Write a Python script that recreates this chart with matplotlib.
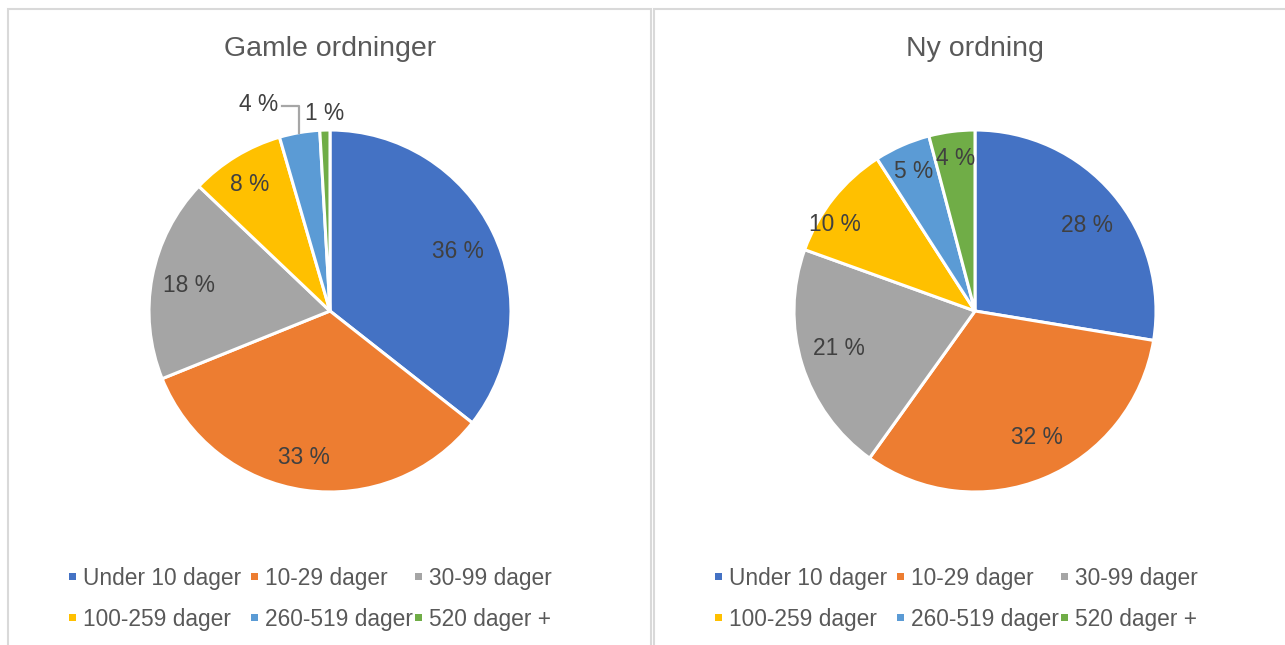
import numpy as np
import matplotlib
matplotlib.use("Agg")
import matplotlib.pyplot as plt
from matplotlib.patches import Rectangle

plt.rcParams['font.family'] = ['Liberation Sans', 'DejaVu Sans']

categories = ["Under 10 dager", "10-29 dager", "30-99 dager",
              "100-259 dager", "260-519 dager", "520 dager +"]
colors = ["#4472C4", "#ED7D31", "#A5A5A5", "#FFC000", "#5B9BD5", "#70AD47"]

title_old = "Gamle ordninger"
values_old = [35.6, 33.3, 18.2, 8.4, 3.6, 0.9]
title_new = "Ny ordning"
values_new = [27.6, 32.3, 20.6, 10.4, 5.0, 4.1]

W, H = 1285, 645
fig = plt.figure(figsize=(W / 100, H / 100), dpi=100)

LABEL_C = "#404040"
TEXT_C = "#595959"
R_PX = 181
L = 1.5
DY = -3.0 / R_PX   # small downward nudge of labels
FS = 16.4


def px_axes(cx, cy):
    side = 2 * L * R_PX
    return [(cx - side / 2) / W, (H - cy - side / 2) / H, side / W, side / H]


def draw_pie(cx, cy, values, title, dists, angle_adj, outside):
    ax = fig.add_axes(px_axes(cx, cy))
    wedges, _ = ax.pie(values, colors=colors, startangle=90, counterclock=False,
                       radius=1.0, wedgeprops=dict(edgecolor="white", linewidth=2.2))
    ax.set_xlim(-L, L)
    ax.set_ylim(-L, L)
    ax.axis("off")
    total = sum(values)
    cum = 0
    for i, v in enumerate(values):
        mid_deg = 90 - 360 * (cum + v / 2) / total
        mid = np.deg2rad(mid_deg)
        cum += v
        label = f"{round(v)} %"
        if i in outside:
            kind = outside[i]
            if kind == "leader":
                x0, y0 = np.cos(mid), np.sin(mid)
                ytop = 1.133
                ax.plot([x0, x0, x0 - 0.095], [y0, ytop, ytop], color="#A6A6A6",
                        lw=1.6, clip_on=False)
                ax.text(x0 - 0.12, 1.16 + DY, label, ha="right", va="center",
                        fontsize=FS, color=LABEL_C)
            else:
                r = 1.11
                ax.text(r * np.cos(mid), r * np.sin(mid) + DY, label, ha="center",
                        va="center", fontsize=FS, color=LABEL_C)
        else:
            r = dists[i]
            a = np.deg2rad(mid_deg + angle_adj[i])
            ax.text(r * np.cos(a), r * np.sin(a), label, ha="center",
                    va="center", fontsize=FS, color=LABEL_C)
    fig.text(cx / W, 1 - 49 / H, title, ha="center", va="center",
             fontsize=20.5, color=TEXT_C)


def draw_legend(x0):
    col_x = [72, 254, 418]
    row_y = [576, 617]
    for i, (lab, c) in enumerate(zip(categories, colors)):
        r, k = divmod(i, 3)
        x = x0 + col_x[k]
        y = row_y[r]
        fig.patches.append(Rectangle(((x - 3.5) / W, 1 - (y + 3.5) / H), 7 / W, 7 / H,
                                     transform=fig.transFigure, color=c, lw=0))
        fig.text((x + 11) / W, 1 - (y + 2.5) / H, lab, ha="left", va="center",
                 fontsize=FS, color=TEXT_C)


# panel borders
for (x1, x2) in [(8, 651), (654, 1300)]:
    fig.patches.append(Rectangle((x1 / W, -0.05), (x2 - x1) / W, 1.05 - 9 / H,
                                 transform=fig.transFigure, fill=False,
                                 edgecolor="#D9D9D9", lw=1.5))

draw_pie(330, 311, values_old, title_old,
         [0.78, 0.82, 0.79, 0.83, 0.8, 0.8],
         [-1.0, -2.0, 0.5, 1.0, 0, 0], {4: "leader", 5: "out"})
draw_pie(975, 311, values_new, title_new,
         [0.78, 0.78, 0.78, 0.91, 0.84, 0.85],
         [-3.0, 3.5, -2.0, 7.0, 0, 0], {})

draw_legend(0)
draw_legend(646)

fig.savefig("out.png", dpi=100)
